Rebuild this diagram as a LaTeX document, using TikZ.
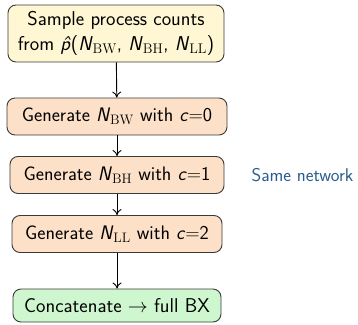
\RequirePackage{fix-cm}
\documentclass[tikz,border=0pt]{standalone}
\usepackage{amsmath}
\usepackage{fontspec}
\usetikzlibrary{arrows.meta}
\definecolor{boxborder}{HTML}{3A3A3A}
\definecolor{yellowfill}{HTML}{FFF7D4}
\definecolor{peachfill}{HTML}{FDE0C8}
\definecolor{greenfill}{HTML}{CFF7CF}
\definecolor{netblue}{HTML}{2B5D8C}
\newcommand\mN{\textit{N}}
\newcommand\sv[1]{\textit{#1}}
\begin{document}
\begin{tikzpicture}[x=1pt,y=-1pt,
  base/.style={draw=boxborder, line width=0.9pt, rounded corners=8pt, align=center,
    font=\sffamily\fontsize{20}{24.5}\selectfont, inner sep=0pt},
  procbox/.style={base, fill=peachfill, minimum height=37pt, font=\sffamily\fontsize{19.6}{24}\selectfont},
  link/.style={draw=black, line width=0.9pt, -{To[length=6pt,width=9pt]}}]
\useasboundingbox (0,0) rectangle (358,324);
\node[base, fill=yellowfill, minimum width=216pt, minimum height=57pt] (sample) at (116,33.5)
  {Sample process counts\\from \textit{\^p}(\mN$_{\mathrm{BW}}$, \mN$_{\mathrm{BH}}$, \mN$_{\mathrm{LL}}$)};
\node[procbox, minimum width=220pt] (bw) at (117,116.5) {Generate \mN$_{\mathrm{BW}}$ with \sv{c}=0};
\node[procbox, minimum width=214pt] (bh) at (117,175) {Generate \mN$_{\mathrm{BH}}$ with \sv{c}=1};
\node[procbox, minimum width=210pt] (ll) at (117,234) {Generate \mN$_{\mathrm{LL}}$ with \sv{c}=2};
\node[base, fill=greenfill, minimum width=208pt, minimum height=33pt] (cat) at (117,305.5)
  {Concatenate $\rightarrow$ full BX};
\node[font=\sffamily\fontsize{18.5}{22}\selectfont, text=netblue, inner sep=0pt] (same) at (302.5,175) {Same network};
\draw[link] (sample) -- (bw);
\draw[link] (bw) -- (bh);
\draw[link] (bh) -- (ll);
\draw[link] (ll) -- (cat);
\end{tikzpicture}
\end{document}
